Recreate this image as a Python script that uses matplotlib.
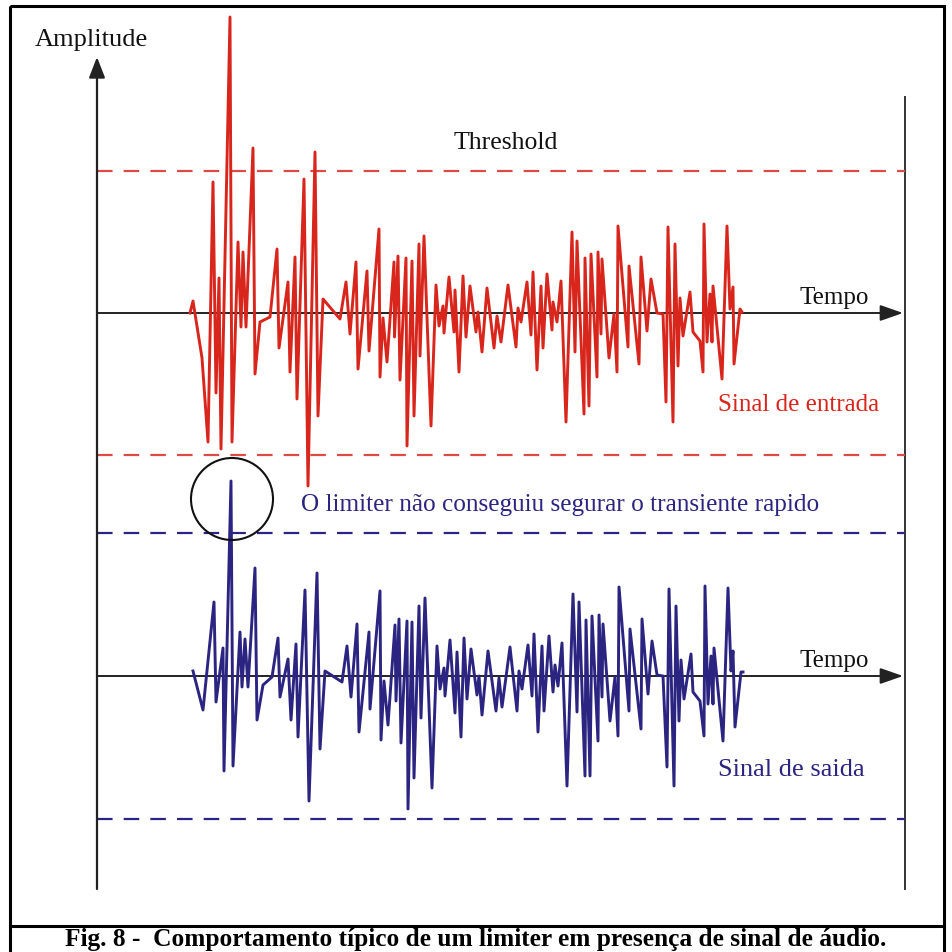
import matplotlib.pyplot as plt
from matplotlib.patches import Circle, Rectangle

# --- dados (tempo em px, amplitude em px acima da linha base) ---
red_t = [190, 193, 202, 208, 213, 216, 219, 221, 230, 232, 238, 241, 243, 246, 253, 255,
         260, 270, 277, 279, 288, 290, 295, 297, 304, 308, 315, 318, 323, 340, 346, 350,
         356, 358, 367, 369, 379, 380, 383, 387, 394, 394.5, 398, 400, 406, 407, 412, 414,
         419, 420, 424, 431, 436, 439, 443, 444, 449, 454, 455, 459, 463, 466, 470, 476,
         478, 482, 487, 494, 497, 501, 508, 516, 518, 521, 527, 531, 533, 537, 541, 543,
         547, 552, 553, 557, 561, 566, 572, 575, 577, 584, 585, 589, 591, 597, 598, 601,
         602, 609, 614, 617, 618, 628, 629, 639, 641, 647, 651, 657, 663, 666, 668, 673,
         675, 678, 680, 683, 690, 693, 700, 703, 704, 707, 710, 712, 713, 722, 727, 730,
         733, 734, 740, 742]
red_amp = [0, 12, -45, -129, 131, -80, 35, -136, 296, -129, 71, -14, 61, -14, 165, -61,
           -9, -4, 64, -35, 31, -59, 56, -86, 134, -173, 161, -103, 14, -6, 31, -21,
           51, -56, 42, -38, 84, -64, -5, -49, 51, -24, 57, -67, 55, -133, 52, -103,
           69, -43, 77, -113, 28, -13, 7, -20, 36, -19, 23, -59, 37, -24, 27, -19,
           1, -39, 25, -35, -3, -29, 28, -34, 5, -9, 31, -22, 41, -57, 27, -35,
           39, -17, 11, -9, 32, -109, 81, -39, 72, -101, 55, -93, 59, -64, 61, -21,
           54, -45, -1, -59, 87, -34, 47, -51, 56, -18, 34, 0, -1, -89, 86, -109,
           69, -53, 15, -23, 21, -19, -28, -59, 89, -29, 19, -29, 27, -66, 87, 4,
           26, -51, 4, 1]

blue_t = [193, 203, 214, 216, 223, 224, 231, 233, 240, 242, 245, 248, 255, 257, 263, 272,
          278, 280, 288, 291, 296, 298, 305, 309, 317, 320, 325, 342, 347, 351, 357, 359,
          369, 370, 380, 381, 384, 388, 395, 396, 399, 401, 407, 408, 412, 414, 419, 421,
          425, 432, 437, 440, 444, 445, 450, 455, 457, 461, 464, 467, 471, 477, 479, 482,
          488, 496, 499, 502, 510, 517, 519, 522, 528, 532, 534, 538, 542, 544, 549, 553,
          555, 558, 562, 567, 573, 577, 579, 585, 586, 590, 592, 598, 599, 602, 603, 610,
          615, 618, 619, 629, 630, 641, 642, 648, 652, 657, 663, 667, 669, 674, 676, 679,
          681, 684, 691, 693, 700, 704, 705, 708, 711, 713, 714, 723, 728, 731, 733, 735,
          741, 743]
blue_amp = [5, -34, 74, -26, 28, -95, 195, -90, 44, -11, 37, -11, 108, -44, -9, -1,
            38, -21, 17, -44, 32, -61, 86, -125, 103, -73, 5, -6, 30, -21, 52, -56,
            44, -33, 85, -64, -5, -49, 51, -25, 57, -67, 55, -133, 54, -102, 70, -42,
            78, -112, 30, -13, 8, -20, 36, -37, 24, -61, 38, -23, 27, -19, 0, -39,
            25, -35, -2, -31, 29, -35, 5, -13, 31, -20, 42, -56, 30, -35, 40, -16,
            11, -10, 33, -110, 82, -36, 74, -100, 56, -100, 60, -65, 61, -21, 52, -45,
            -1, -60, 89, -35, 47, -53, 57, -18, 35, 1, 0, -91, 87, -110, 70, -45,
            16, -23, 22, -16, -25, -60, 90, -28, 20, -28, 28, -65, 88, 5, 25, -51,
            4, 4]

threshold = 142          # nível do limiter (px)
red_base, blue_base = 314, 677

RED = '#d8261c'
RED_DASH = '#dc4a44'
NAVY = '#2b2480'
plt.rcParams['font.family'] = ['Liberation Serif', 'DejaVu Serif']

fig = plt.figure(figsize=(9.52, 9.53), dpi=100)
ax = fig.add_axes([0, 0, 1, 1])
ax.set_xlim(0, 952)
ax.set_ylim(953, 0)
ax.axis('off')

# moldura e caixa da legenda
ax.add_patch(Rectangle((10, 7), 934, 960, fill=False, lw=2.2, ec='black'))
ax.plot([10, 944], [927, 927], color='black', lw=2.2)

# eixos verticais
ax.annotate('', xy=(97, 58), xytext=(97, 890),
            arrowprops=dict(arrowstyle='-|>,head_length=0.9,head_width=0.35',
                            lw=1.6, color='#222222', mutation_scale=14, shrinkA=0, shrinkB=0))
ax.plot([905, 905], [98, 890], color='#333333', lw=1.4)

# eixos de tempo
for base in (red_base, blue_base):
    ax.annotate('', xy=(903, base), xytext=(97, base),
                arrowprops=dict(arrowstyle='-|>,head_length=1.0,head_width=0.35',
                                lw=1.4, color='#222222', mutation_scale=14, shrinkA=0, shrinkB=0))

# thresholds
for s in (1, -1):
    ax.plot([97, 905], [red_base - s * threshold] * 2, color=RED_DASH, lw=1.6,
            dashes=(7, 5))
    ax.plot([97, 905], [blue_base - s * (threshold + 1)] * 2, color=NAVY, lw=1.6,
            dashes=(7, 5))

# sinais
ax.plot(red_t, [red_base - a for a in red_amp], color=RED, lw=2.1,
        solid_joinstyle='round', zorder=3)
ax.plot(blue_t, [blue_base - a for a in blue_amp], color=NAVY, lw=2.1,
        solid_joinstyle='round', zorder=3)

# círculo do transiente
ax.add_patch(Circle((232, 500), 41, fill=False, ec='#111111', lw=1.5, zorder=4))

# textos
ax.text(91, 40, 'Amplitude', ha='center', va='center', fontsize=19, color='#111111')
ax.text(506, 143, 'Threshold', ha='center', va='center', fontsize=18.5, color='#111111')
ax.text(834, 298, 'Tempo', ha='center', va='center', fontsize=18, color='#111111')
ax.text(834, 661, 'Tempo', ha='center', va='center', fontsize=18, color='#111111')
ax.text(799, 405, 'Sinal de entrada', ha='center', va='center', fontsize=18, color=RED)
ax.text(560, 505, 'O limiter não conseguiu segurar o transiente rapido', ha='center',
        va='center', fontsize=18.2, color=NAVY)
ax.text(791, 770, 'Sinal de saida', ha='center', va='center', fontsize=19, color=NAVY)

ax.text(476, 946, 'Fig. 8 -  Comportamento típico de um limiter em presença de sinal de áudio.',
        ha='center', va='baseline', fontsize=18.3, fontweight='bold', color='black')

fig.savefig('out.png', dpi=100)
